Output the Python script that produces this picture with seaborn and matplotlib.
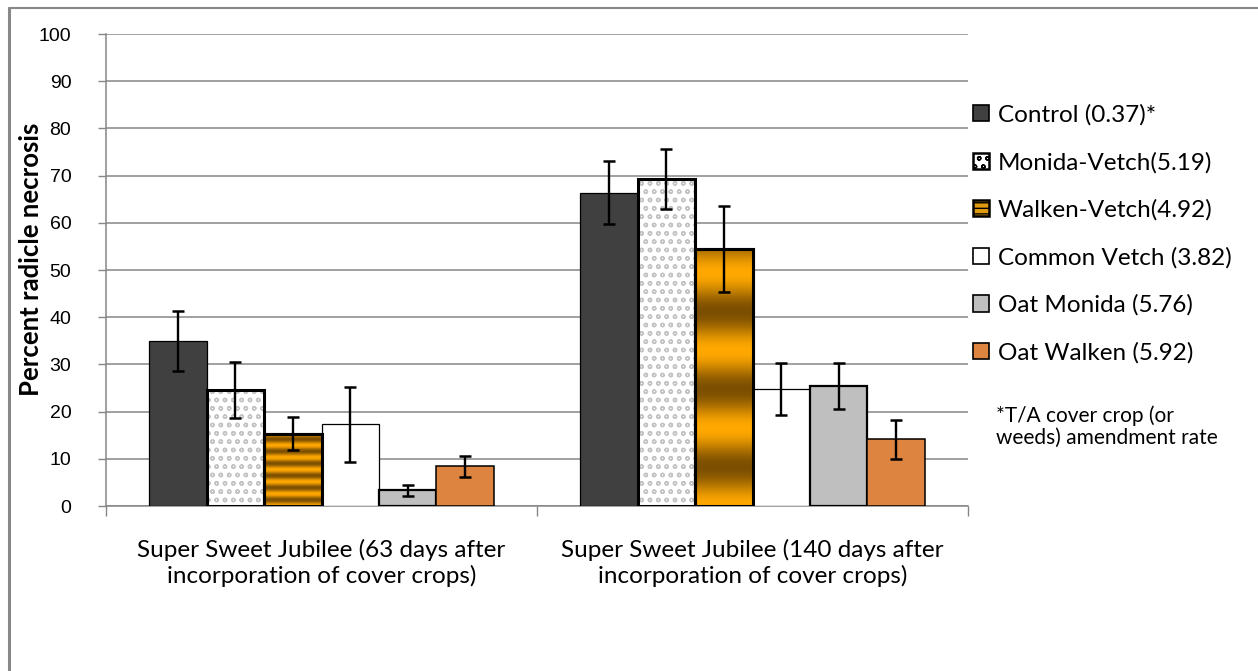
import numpy as np
import pandas as pd
import seaborn as sns
import matplotlib
matplotlib.use('Agg')
import matplotlib.pyplot as plt
from matplotlib.patches import Patch, Rectangle
from matplotlib.colors import LinearSegmentedColormap
from matplotlib.lines import Line2D

GROUPS = ["Super Sweet Jubilee (63 days after\nincorporation of cover crops)",
          "Super Sweet Jubilee (140 days after\nincorporation of cover crops)"]
TREATMENTS = ["Control (0.37)*", "Monida-Vetch(5.19)", "Walken-Vetch(4.92)",
              "Common Vetch (3.82)", "Oat Monida (5.76)", "Oat Walken (5.92)"]
# values per treatment: [63 days, 140 days]
CONTROL = [35.0, 66.4]
MONIDA_VETCH = [24.6, 69.3]
WALKEN_VETCH = [15.3, 54.4]
COMMON_VETCH = [17.3, 24.7]
OAT_MONIDA = [3.3, 25.4]
OAT_WALKEN = [8.4, 14.1]
# error bar half-widths
ERR_CONTROL = [6.4, 6.6]
ERR_MONIDA_VETCH = [6.0, 6.4]
ERR_WALKEN_VETCH = [3.5, 9.1]
ERR_COMMON_VETCH = [8.0, 5.5]
ERR_OAT_MONIDA = [1.1, 4.9]
ERR_OAT_WALKEN = [2.2, 4.2]
FOOTNOTE = "*T/A cover crop (or\nweeds) amendment rate"

values = [CONTROL, MONIDA_VETCH, WALKEN_VETCH, COMMON_VETCH, OAT_MONIDA, OAT_WALKEN]
errors = [ERR_CONTROL, ERR_MONIDA_VETCH, ERR_WALKEN_VETCH, ERR_COMMON_VETCH,
          ERR_OAT_MONIDA, ERR_OAT_WALKEN]

rows = []
for t, vals in zip(TREATMENTS, values):
    for g, v in zip(GROUPS, vals):
        rows.append({"group": g, "treatment": t, "value": v})
df = pd.DataFrame(rows)

faces = ["#404040", "#ffffff", "#f0a000", "#ffffff", "#bfbfbf", "#dc8440"]
edge_lw = [0.9, 2.2, 2.2, 0.9, 1.6, 1.1]
stripe_periods = [6, 3.3]

sns.set_theme(style="white")
plt.rcParams['font.family'] = ['Lato', 'DejaVu Sans']
plt.rcParams['text.color'] = 'black'
plt.rcParams['xtick.color'] = 'black'
plt.rcParams['ytick.color'] = 'black'
plt.rcParams['axes.labelcolor'] = 'black'
GRID = "#868686"

fig = plt.figure(figsize=(12.58, 6.71), dpi=100)
ax = fig.add_axes([0.0843, 0.2459, 0.6852, 0.7034])

sns.barplot(data=df, x="group", y="value", hue="treatment", order=GROUPS,
            hue_order=TREATMENTS, palette=faces, errorbar=None, width=0.8,
            saturation=1, ax=ax, legend=False, zorder=3)
bar_sets = list(ax.containers)

for i, cont in enumerate(bar_sets):
    for bar in cont:
        bar.set_edgecolor("black")
        bar.set_linewidth(edge_lw[i])

# Monida-Vetch: light gray scalloped pattern
for bar in bar_sets[1]:
    bar.set_edgecolor("#c4c4c4")
    bar.set_hatch("oo")
    bar.set_linewidth(0)
    ax.add_patch(Rectangle(bar.get_xy(), bar.get_width(), bar.get_height(),
                           fill=False, edgecolor="black", lw=edge_lw[1], zorder=4))

# Walken-Vetch: banded gradient
stripes = LinearSegmentedColormap.from_list("st", ["#7c4f00", "#ffa800"])
for bar, n in zip(bar_sets[2], stripe_periods):
    x0, y0 = bar.get_xy()
    w, h = bar.get_width(), bar.get_height()
    t = np.linspace(0, 1, 400)
    band = (0.5 + 0.5 * np.cos(2 * np.pi * n * t))[:, None]
    im = ax.imshow(band, cmap=stripes, extent=[x0, x0 + w, y0, y0 + h],
                   origin="lower", aspect="auto", zorder=3.5, interpolation="bilinear")
    im.set_clip_path(bar)
    ax.add_patch(Rectangle((x0, y0), w, h, fill=False, edgecolor="black",
                           lw=edge_lw[2], zorder=4))

# error bars
for i, cont in enumerate(bar_sets):
    xs = [b.get_x() + b.get_width() / 2 for b in cont]
    ax.errorbar(xs, values[i], yerr=errors[i], fmt="none", ecolor="black",
                elinewidth=1.7, capsize=4.5, capthick=1.8, zorder=5)

ax.set_xlim(-0.5, 1.5)
ax.set_ylim(0, 100)
ax.set_yticks(range(0, 101, 10))
ax.yaxis.grid(True, color=GRID, lw=1.1)
ax.set_axisbelow(True)
for s in ["top", "right"]:
    ax.spines[s].set_visible(False)
for s in ["left", "bottom"]:
    ax.spines[s].set_color(GRID)
    ax.spines[s].set_linewidth(1.1)
ax.tick_params(axis="y", which="major", left=True, length=6, width=1, color=GRID,
               labelsize=14, pad=19, labelcolor="black")
for lab in ax.get_yticklabels():
    lab.set_family(["Liberation Sans", "DejaVu Sans"])
ax.set_xticks([0, 1])
ax.set_xticklabels(GROUPS, fontsize=17.5, linespacing=1.2)
ax.tick_params(axis="x", which="major", length=0, pad=24, labelcolor="black")
ax.set_xticks([-0.5, 0.5, 1.5], minor=True)
ax.tick_params(axis="x", which="minor", bottom=True, length=7, width=1, color=GRID)
ax.set_xlabel("")
ax.set_ylabel("Percent radicle necrosis", fontsize=18.5, fontweight="bold")
ax.yaxis.set_label_coords(-0.073, 0.523)

handles = []
for i, t in enumerate(TREATMENTS):
    if i == 1:
        handles.append(Patch(facecolor="white", edgecolor="black", lw=1.8, hatch="oo", label=t))
    elif i == 2:
        handles.append(Patch(facecolor="#e09a10", edgecolor="black", lw=1.8, hatch="---", label=t))
    else:
        handles.append(Patch(facecolor=faces[i], edgecolor="black", lw=1.2, label=t))
fig.legend(handles=handles, loc="upper left", bbox_to_anchor=(0.766, 0.859),
           frameon=False, fontsize=17.5, handlelength=0.65, handleheight=0.65,
           handletextpad=0.35, labelspacing=1.07, borderaxespad=0)
fig.text(0.792, 0.396, FOOTNOTE, fontsize=15, va="top", ha="left", linespacing=1.15)

# outer chart frame
fig.add_artist(Line2D([0.0075, 0.0075], [0.0, 0.988], color="#888888", lw=2.2,
                      transform=fig.transFigure))
fig.add_artist(Line2D([0.0075, 1.0], [0.988, 0.988], color="#888888", lw=1.5,
                      transform=fig.transFigure))

fig.savefig("out.png", dpi=100)
